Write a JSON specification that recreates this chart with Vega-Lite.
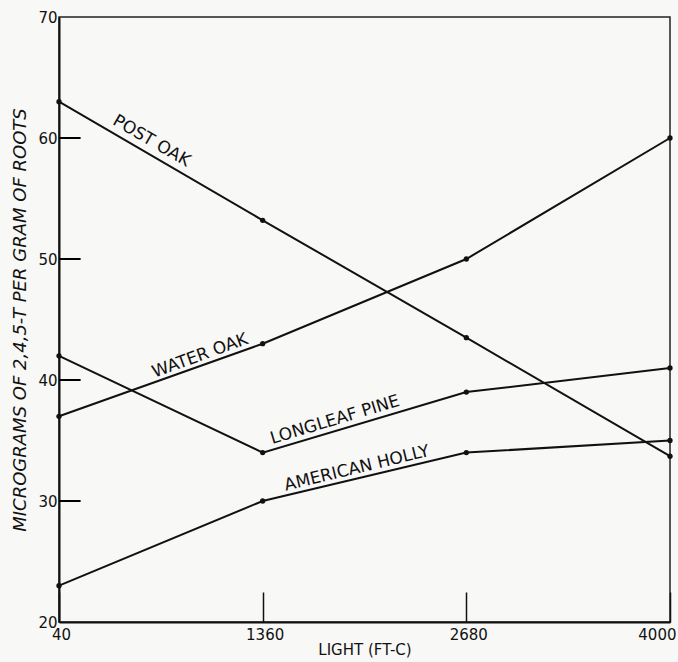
{
  "$schema": "https://vega.github.io/schema/vega-lite/v6.json",
  "width": 611,
  "height": 605,
  "autosize": {"type": "none"},
  "padding": {"left": 59, "top": 17, "right": 8, "bottom": 40},
  "background": "#f8f8f6",
  "config": {
    "view": {"stroke": "#222", "strokeWidth": 1.5},
    "axis": {
      "domainColor": "#111",
      "domainWidth": 2,
      "tickColor": "#111",
      "tickWidth": 1.5,
      "grid": false,
      "labelFont": "DejaVu Sans",
      "labelFontSize": 15,
      "labelColor": "#111",
      "titleFont": "DejaVu Sans",
      "titleFontWeight": "normal",
      "titleColor": "#111"
    }
  },
  "datasets": {
    "series": [
      {"species": "POST OAK", "light": 40, "value": 63},
      {"species": "POST OAK", "light": 1360, "value": 53.2},
      {"species": "POST OAK", "light": 2680, "value": 43.5},
      {"species": "POST OAK", "light": 4000, "value": 33.7},
      {"species": "WATER OAK", "light": 40, "value": 37},
      {"species": "WATER OAK", "light": 1360, "value": 43},
      {"species": "WATER OAK", "light": 2680, "value": 50},
      {"species": "WATER OAK", "light": 4000, "value": 60},
      {"species": "LONGLEAF PINE", "light": 40, "value": 42},
      {"species": "LONGLEAF PINE", "light": 1360, "value": 34},
      {"species": "LONGLEAF PINE", "light": 2680, "value": 39},
      {"species": "LONGLEAF PINE", "light": 4000, "value": 41},
      {"species": "AMERICAN HOLLY", "light": 40, "value": 23},
      {"species": "AMERICAN HOLLY", "light": 1360, "value": 30},
      {"species": "AMERICAN HOLLY", "light": 2680, "value": 34},
      {"species": "AMERICAN HOLLY", "light": 4000, "value": 35}
    ],
    "labels": [
      {"label": "POST OAK", "light": 640, "value": 59.75},
      {"label": "WATER OAK", "light": 954, "value": 42.0},
      {"label": "LONGLEAF PINE", "light": 1829, "value": 36.7},
      {"label": "AMERICAN HOLLY", "light": 1971, "value": 32.7}
    ],
    "yticks": [
      {"start": 40, "end": 180, "value": 30},
      {"start": 40, "end": 180, "value": 40},
      {"start": 40, "end": 180, "value": 50},
      {"start": 40, "end": 180, "value": 60}
    ]
  },
  "encoding": {
    "x": {
      "field": "light",
      "type": "quantitative",
      "scale": {"domain": [40, 4000], "nice": false, "zero": false},
      "axis": {
        "values": [40, 1360, 2680, 4000],
        "format": "d",
        "title": "LIGHT (FT-C)",
        "titleFontSize": 15,
        "titlePadding": 0,
        "tickSize": -30,
        "labelPadding": 35,
        "labelAlign": {"expr": "datum.value == 4000 ? 'right' : 'center'"},
        "labelOffset": {"expr": "datum.value == 4000 ? 6 : 2"}
      }
    },
    "y": {
      "field": "value",
      "type": "quantitative",
      "scale": {"domain": [20, 70], "nice": false, "zero": false},
      "axis": {
        "values": [20, 30, 40, 50, 60, 70],
        "title": "MICROGRAMS OF 2,4,5-T PER GRAM OF ROOTS",
        "titleFontSize": 18,
        "titleFontStyle": "italic",
        "titlePadding": 8,
        "ticks": false,
        "labelPadding": 2
      }
    }
  },
  "layer": [
    {
      "data": {"name": "series"},
      "mark": {"type": "line", "color": "#111", "strokeWidth": 2},
      "encoding": {"detail": {"field": "species"}}
    },
    {
      "data": {"name": "series"},
      "mark": {"type": "point", "filled": true, "color": "#111", "size": 28, "opacity": 1}
    },
    {
      "data": {"name": "yticks"},
      "mark": {"type": "rule", "color": "#000000", "strokeWidth": 2},
      "encoding": {
        "x": {"field": "start", "type": "quantitative"},
        "x2": {"field": "end"},
        "y": {"field": "value", "type": "quantitative"}
      }
    },
    {
      "data": {"name": "labels"},
      "transform": [{"filter": "datum.label == 'POST OAK'"}],
      "mark": {"type": "text", "angle": 30, "font": "DejaVu Sans", "fontSize": 17, "color": "#111", "align": "center", "baseline": "middle"},
      "encoding": {"text": {"field": "label"}}
    },
    {
      "data": {"name": "labels"},
      "transform": [{"filter": "datum.label == 'WATER OAK'"}],
      "mark": {"type": "text", "angle": -20, "font": "DejaVu Sans", "fontSize": 17, "color": "#111", "align": "center", "baseline": "middle"},
      "encoding": {"text": {"field": "label"}}
    },
    {
      "data": {"name": "labels"},
      "transform": [{"filter": "datum.label == 'LONGLEAF PINE'"}],
      "mark": {"type": "text", "angle": -16.7, "font": "DejaVu Sans", "fontSize": 17, "color": "#111", "align": "center", "baseline": "middle"},
      "encoding": {"text": {"field": "label"}}
    },
    {
      "data": {"name": "labels"},
      "transform": [{"filter": "datum.label == 'AMERICAN HOLLY'"}],
      "mark": {"type": "text", "angle": -13.6, "font": "DejaVu Sans", "fontSize": 17, "color": "#111", "align": "center", "baseline": "middle"},
      "encoding": {"text": {"field": "label"}}
    }
  ]
}
